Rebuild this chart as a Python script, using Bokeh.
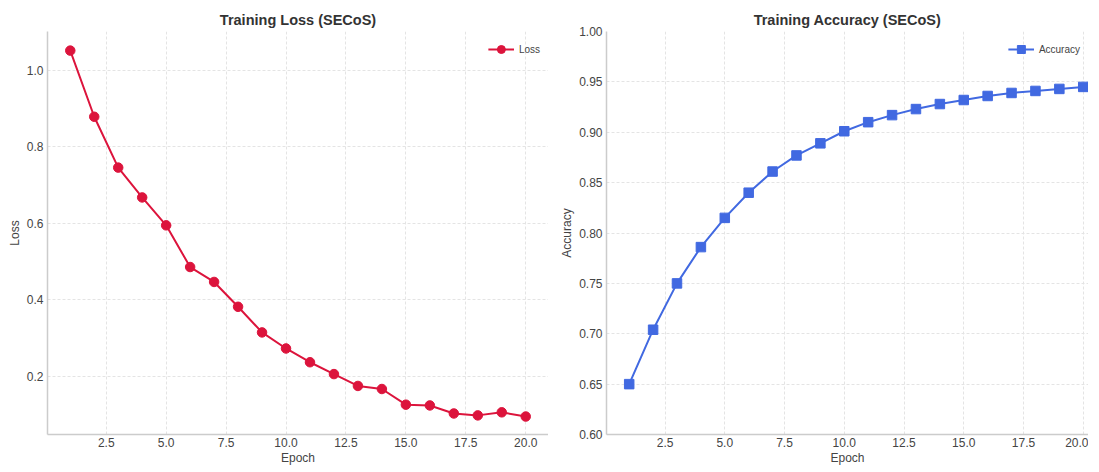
from bokeh.plotting import figure
from bokeh.layouts import row, column
from bokeh.models import FixedTicker, PrintfTickFormatter, Range1d, Spacer
from bokeh.embed import file_html
from bokeh.resources import INLINE

epochs = list(range(1, 21))
loss = [1.051, 0.878, 0.745, 0.667, 0.594, 0.485, 0.446, 0.381, 0.314, 0.272,
        0.236, 0.205, 0.174, 0.166, 0.125, 0.123, 0.102, 0.097, 0.105, 0.094]
accuracy = [0.650, 0.704, 0.750, 0.786, 0.815, 0.840, 0.861, 0.877, 0.889, 0.901,
            0.910, 0.917, 0.923, 0.928, 0.932, 0.936, 0.939, 0.941, 0.943, 0.945]
x_ticks = [2.5, 5.0, 7.5, 10.0, 12.5, 15.0, 17.5, 20.0]
loss_ticks = [0.2, 0.4, 0.6, 0.8, 1.0]
acc_ticks = [0.60, 0.65, 0.70, 0.75, 0.80, 0.85, 0.90, 0.95, 1.00]

FONT = "Liberation Sans"
TXT = "#444444"


def style(p, xlabel, ylabel, yticks, yfmt):
    p.title.text_font = FONT
    p.title.text_font_size = "14.5px"
    p.title.text_font_style = "bold"
    p.title.text_color = "#333333"
    p.title.align = "center"
    p.title.standoff = 7
    p.title.offset = 0
    for ax in (p.xaxis[0], p.yaxis[0]):
        ax.axis_line_color = "#cccccc"
        ax.axis_line_width = 1.5
        ax.major_tick_line_color = None
        ax.minor_tick_line_color = None
        ax.major_tick_out = 0
        ax.major_tick_in = 0
        ax.major_label_text_font = FONT
        ax.major_label_text_font_size = "12px"
        ax.major_label_text_color = TXT
        ax.axis_label_text_font = FONT
        ax.axis_label_text_font_size = "12px"
        ax.axis_label_text_font_style = "normal"
        ax.axis_label_text_color = TXT
        ax.major_label_standoff = 4
        ax.axis_label_standoff = 2
    p.xaxis[0].major_label_standoff = 3
    p.xaxis[0].axis_label_standoff = 1
    p.xaxis[0].axis_label = xlabel
    p.yaxis[0].axis_label = ylabel
    p.xaxis[0].ticker = FixedTicker(ticks=x_ticks)
    p.xaxis[0].formatter = PrintfTickFormatter(format="%.1f")
    p.yaxis[0].ticker = FixedTicker(ticks=yticks)
    p.yaxis[0].formatter = PrintfTickFormatter(format=yfmt)
    for g in (p.xgrid[0], p.ygrid[0]):
        g.grid_line_color = "#e4e4e4"
        g.grid_line_dash = "3 2"
        g.grid_line_width = 1
    p.outline_line_color = None
    p.background_fill_color = "white"
    p.border_fill_color = "white"
    p.legend.location = "top_right"
    p.legend.border_line_alpha = 0
    p.legend.background_fill_alpha = 0
    p.legend.label_text_font = FONT
    p.legend.label_text_font_size = "10px"
    p.legend.label_text_color = TXT
    p.legend.glyph_width = 26
    p.legend.margin = 4
    p.legend.padding = 4


p1 = figure(title="Training Loss (SECoS)", frame_width=501, frame_height=403,
            x_range=Range1d(0.05, 20.95), y_range=Range1d(0.047, 1.101),
            output_backend="svg", toolbar_location=None,
            min_border_left=0, min_border_right=0, min_border_top=0, min_border_bottom=0)
p1.line(epochs, loss, line_color="#DC143C", line_width=2, legend_label="Loss")
p1.scatter(epochs, loss, marker="circle", size=9.5, fill_color="#DC143C",
           line_color="#DC143C", legend_label="Loss")
style(p1, "Epoch", "Loss", loss_ticks, "%.1f")

p2 = figure(title="Training Accuracy (SECoS)", frame_width=482, frame_height=403,
            x_range=Range1d(0.05, 20.22), y_range=Range1d(0.60, 1.00),
            output_backend="svg", toolbar_location=None,
            min_border_left=0, min_border_right=0, min_border_top=0, min_border_bottom=0)
p2.line(epochs, accuracy, line_color="#4169E1", line_width=2, legend_label="Accuracy")
p2.scatter(epochs, accuracy, marker="square", size=9.5, fill_color="#4169E1",
           line_color="#4169E1", legend_label="Accuracy")
style(p2, "Epoch", "Accuracy", acc_ticks, "%.2f")

layout = column(Spacer(height=6), row(Spacer(width=4), p1, Spacer(width=9), p2))
open("out.html", "w").write(file_html(layout, INLINE))
